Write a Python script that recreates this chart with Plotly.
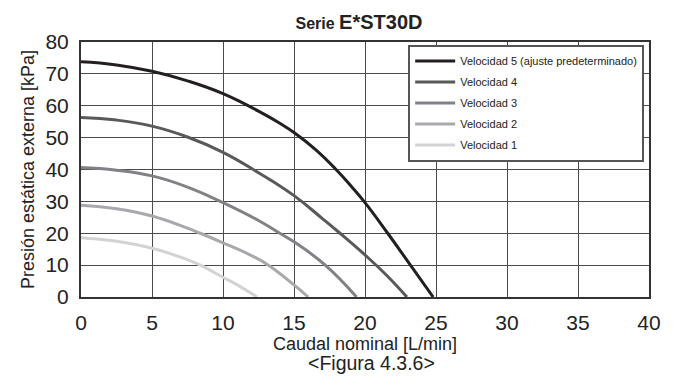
import plotly.graph_objects as go

# Data
names = ["Velocidad 5 (ajuste predeterminado)", "Velocidad 4", "Velocidad 3", "Velocidad 2", "Velocidad 1"]
colors = ["#231f20", "#58595b", "#808285", "#a7a9ac", "#d1d3d4"]

v5_x = [0, 2.5, 5, 7.5, 10, 12.5, 14, 15, 16.5, 17.96, 19, 20, 21.6, 23.2, 24.8]
v5_y = [73.8, 72.8, 70.8, 67.8, 63.8, 58.3, 54.5, 51.6, 46.3, 40.0, 34.9, 29.6, 20.0, 10.0, 0]
v4_x = [0, 2.5, 5, 7.5, 10, 12.5, 15, 17, 18.24, 20, 21.5, 22.95]
v4_y = [56.3, 55.5, 53.6, 50.2, 45.4, 39.0, 31.8, 24.6, 20.0, 13.2, 6.9, 0]
v3_x = [0, 2.5, 5, 7.5, 10, 12.5, 14, 15, 17.2, 19.4]
v3_y = [40.6, 39.8, 38.0, 34.5, 29.6, 24.0, 20.0, 17.3, 10.0, 0]
v2_x = [0, 2.5, 5, 7.5, 8.4, 10, 12, 13.2, 15, 16.0]
v2_y = [28.8, 27.7, 25.4, 21.6, 20.0, 17.0, 13.0, 10.0, 3.8, 0]
v1_x = [0, 2.5, 5, 7.5, 8.4, 10, 11, 12.4]
v1_y = [18.6, 17.5, 15.3, 11.7, 10.0, 6.2, 3.8, 0]

xs = [v5_x, v4_x, v3_x, v2_x, v1_x]
ys = [v5_y, v4_y, v3_y, v2_y, v1_y]

x_ticks = [0, 5, 10, 15, 20, 25, 30, 35, 40]
y_ticks = [0, 10, 20, 30, 40, 50, 60, 70, 80]

fig = go.Figure()
for i, (n, c, x, y) in enumerate(zip(names, colors, xs, ys)):
    fig.add_trace(go.Scatter(
        x=x, y=y, mode="lines", name=n, legendgroup=f"g{i}",
        line=dict(color=c, width=3, shape="spline", smoothing=1.3),
    ))

axis_common = dict(
    showgrid=True, gridcolor="#4a4a4a", gridwidth=1,
    showline=True, linecolor="#333333", linewidth=2, mirror=True,
    zeroline=False,
    tickfont=dict(family="Liberation Sans, Arial, sans-serif", size=21, color="#222"),
    ticks="outside", ticklen=6, tickcolor="rgba(0,0,0,0)",
)

fig.update_layout(
    width=675, height=379,
    margin=dict(l=81, r=26, t=42, b=82),
    paper_bgcolor="white", plot_bgcolor="white",
    font=dict(family="Liberation Sans, Arial, sans-serif", color="#222"),
    title=dict(
        text="<b><span style='font-size:16px'>Serie </span>E*ST30D</b>",
        font=dict(size=20, color="#222"),
        x=359 / 675, xanchor="center", y=1 - 22 / 379, yanchor="middle",
    ),
    xaxis=dict(
        range=[0, 40], tickvals=x_ticks, **axis_common,
        title=dict(text="Caudal nominal [L/min]", font=dict(size=18), standoff=4),
    ),
    yaxis=dict(
        range=[0, 80], tickvals=y_ticks, **axis_common,
        title=dict(text="Presión estática externa [kPa]", font=dict(size=18), standoff=6),
    ),
    showlegend=True,
    legend=dict(
        x=0.576, y=0.99, xanchor="left", yanchor="top",
        bgcolor="white", bordercolor="#555555", borderwidth=2,
        font=dict(family="Liberation Sans Narrow, Arial Narrow, sans-serif", size=11, color="#222"),
        traceorder="grouped", tracegroupgap=2, itemwidth=40,
    ),
    annotations=[
        dict(text="&lt;Figura 4.3.6&gt;", xref="paper", yref="paper",
             x=(371 - 81) / 568, y=-(363 - 297) / 255, xanchor="center", yanchor="middle",
             showarrow=False, font=dict(size=19.5, color="#222")),
    ],
)

fig.write_html("out.html", config={"displayModeBar": False},
               post_script="document.body.style.margin='0';")
